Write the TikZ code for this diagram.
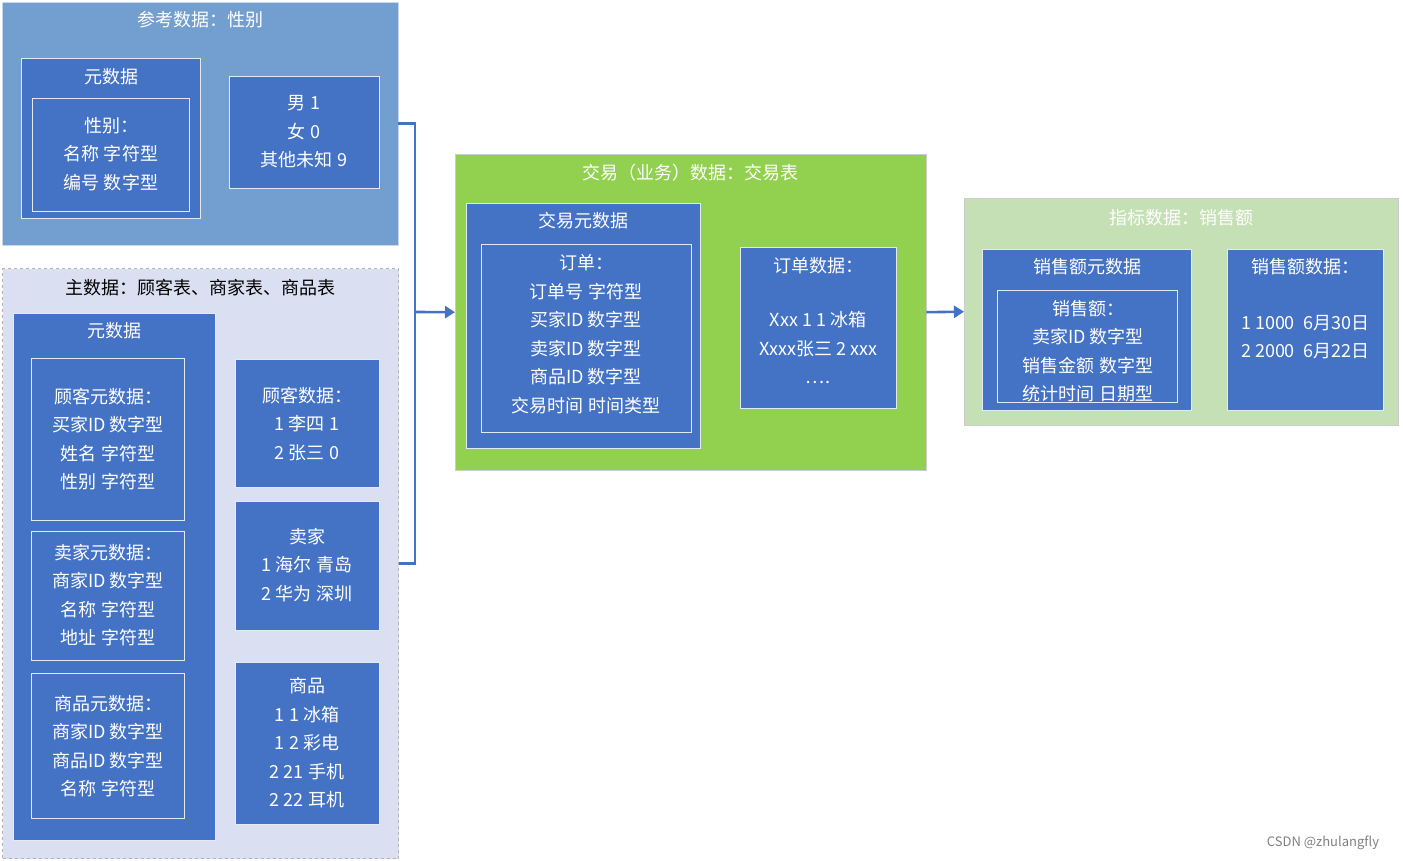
\documentclass[tikz,border=0pt]{standalone}
\usepackage{fontspec}
\setmainfont{Noto Sans CJK SC}
\usetikzlibrary{positioning,arrows.meta}
\definecolor{bluebox}{HTML}{4472C4}
\definecolor{refpanel}{HTML}{729FCF}
\definecolor{mainpanel}{HTML}{DAE0F2}
\definecolor{bizpanel}{HTML}{92D050}
\definecolor{kpipanel}{HTML}{C5E0B4}
\tikzset{panel/.style={anchor=north west,inner sep=0pt},
  mbox/.style={anchor=north west,inner sep=0pt,fill=bluebox,draw=white!85!bluebox,line width=0.8pt},
  ibox/.style={anchor=north west,inner sep=0pt,draw=white!85!bluebox,line width=0.8pt},
  txt/.style={text=white,align=center,font=\fontsize{18}{28.5}\selectfont,inner sep=0pt},
  link/.style={draw=bluebox,line width=2.6pt}}
\begin{document}
\begin{tikzpicture}[x=1pt,y=-1pt]
\useasboundingbox (0,0) rectangle (1403,861);

% Panels
\node[panel,fill=refpanel,draw=white!60!refpanel,minimum width=396pt,minimum height=243pt] (ref) at (2,2) {};
\node[panel,fill=mainpanel,draw=gray!60,dashed,line width=1.2pt,minimum width=396pt,minimum height=590pt] (main) at (2,268) {};
\node[panel,fill=bizpanel,draw=gray!40,minimum width=471pt,minimum height=316pt] (biz) at (455,154) {};
\node[panel,fill=kpipanel,draw=gray!40,minimum width=434pt,minimum height=227pt] (kpi) at (964,198) {};

\node[txt] (reft) at (200,20) {参考数据：性别};
\node[txt,text=black] (maint) at (200,288) {主数据：顾客表、商家表、商品表};
\node[txt] (bizt) at (690,173) {交易（业务）数据：交易表};
\node[txt] (kpit) at (1181,218) {指标数据：销售额};

% Reference data
\node[mbox,minimum width=179pt,minimum height=160pt] (rmeta) at (21,58) {};
\node[txt] at (111,77) {元数据};
\node[ibox,minimum width=157pt,minimum height=113pt] (rmetai) at (32,98) {};
\node[txt] at (111,154) {性别：\\名称 字符型\\编号 数字型};
\node[mbox,minimum width=150pt,minimum height=112pt] (rdata) at (229,76) {};
\node[txt] at (304,132) {男 1\\女 0\\其他未知 9};

% Master data
\node[mbox,minimum width=202pt,minimum height=527pt] (mmeta) at (13,313) {};
\node[txt] at (114,331) {元数据};
\node[ibox,minimum width=153pt,minimum height=162pt] (cmeta) at (31,358) {};
\node[txt] at (108,439) {顾客元数据：\\买家ID 数字型\\姓名 字符型\\性别 字符型};
\node[ibox,minimum width=153pt,minimum height=129pt] (smeta) at (31,531) {};
\node[txt] at (108,595) {卖家元数据：\\商家ID 数字型\\名称 字符型\\地址 字符型};
\node[ibox,minimum width=153pt,minimum height=145pt] (gmeta) at (31,673) {};
\node[txt] at (108,746) {商品元数据：\\商家ID 数字型\\商品ID 数字型\\名称 字符型};
\node[mbox,minimum width=144pt,minimum height=128pt] (cdata) at (235,359) {};
\node[txt] at (307,424) {顾客数据：\\1 李四 1\\2 张三 0};
\node[mbox,minimum width=144pt,minimum height=129pt] (sdata) at (235,501) {};
\node[txt] at (307,565) {卖家\\1 海尔 青岛\\2 华为 深圳};
\node[mbox,minimum width=144pt,minimum height=162pt] (gdata) at (235,662) {};
\node[txt] at (307,743) {商品\\1 1 冰箱\\1 2 彩电\\2 21 手机\\2 22 耳机};

% Business data
\node[mbox,minimum width=234pt,minimum height=245pt] (tmeta) at (466,203) {};
\node[txt] at (583,221) {交易元数据};
\node[ibox,minimum width=210pt,minimum height=188pt] (tmetai) at (481,244) {};
\node[txt] at (586,334) {订单：\\订单号 字符型\\买家ID 数字型\\卖家ID 数字型\\商品ID 数字型\\交易时间 时间类型};
\node[mbox,minimum width=156pt,minimum height=161pt] (tdata) at (740,247) {};
\node[txt] at (818,266) {订单数据：};
\node[txt] at (818,348) {Xxx 1 1 冰箱\\Xxxx张三 2 xxx\\….};

% Indicator data
\node[mbox,minimum width=209pt,minimum height=161pt] (kmeta) at (982,249) {};
\node[txt] at (1087,267) {销售额元数据};
\node[ibox,minimum width=180pt,minimum height=112pt] (kmetai) at (997,290) {};
\node[txt] at (1088,351) {销售额：\\卖家ID 数字型\\销售金额 数字型\\统计时间 日期型};
\node[mbox,minimum width=156pt,minimum height=161pt] (kdata) at (1227,249) {};
\node[txt] at (1305,267) {销售额数据：};
\node[txt] at (1305,337) {1 1000~ 6月30日\\2 2000~ 6月22日};

% Connectors
\coordinate (jn) at (415,312);
\draw[link] (ref.east) -| (jn) |- (main.east);
\draw[link,-{Triangle[length=10pt,width=12pt]}] (jn) -- (biz.west);
\draw[link,-{Triangle[length=10pt,width=12pt]}] (biz.east) -- (kpi.west);

\node[text=gray,font=\fontsize{13}{13}\selectfont] (wm) at (1323,843) {CSDN @zhulangfly};
\end{tikzpicture}
\end{document}
